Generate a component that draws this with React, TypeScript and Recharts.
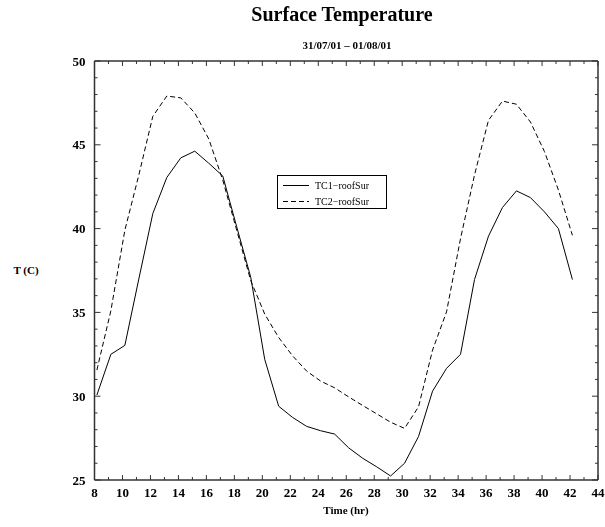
import { LineChart, Line, XAxis, YAxis } from "recharts";

const SERIF = '"Liberation Serif", "Times New Roman", serif';
const INK = "#000";
const FRAME = "#333";

// hour of sample (31/07 08:10 onwards)
const hours = [
  8.17, 9.17, 10.17, 11.17, 12.17, 13.17, 14.17, 15.17, 16.17, 17.17, 18.17, 19.17,
  20.17, 21.17, 22.17, 23.17, 24.17, 25.17, 26.17, 27.17, 28.17, 29.17, 30.17, 31.17,
  32.17, 33.17, 34.17, 35.17, 36.17, 37.17, 38.17, 39.17, 40.17, 41.17, 42.17,
];

const tc1RoofSur = [
  30.07, 32.5, 33.03, 37.0, 40.9, 43.05, 44.22, 44.62, 43.9, 43.14, 40.1, 37.1,
  32.2, 29.4, 28.73, 28.2, 27.94, 27.74, 26.92, 26.3, 25.79, 25.24, 26.0, 27.6,
  30.3, 31.66, 32.5, 36.96, 39.55, 41.26, 42.25, 41.85, 41.0, 40.0, 36.96,
];

const tc2RoofSur = [
  31.56, 35.1, 39.9, 43.2, 46.7, 47.91, 47.8, 46.9, 45.35, 42.9, 39.9, 36.9,
  34.9, 33.5, 32.4, 31.5, 30.9, 30.5, 29.96, 29.45, 28.95, 28.45, 28.08, 29.37,
  32.75, 35.03, 39.4, 43.2, 46.46, 47.61, 47.42, 46.36, 44.6, 42.3, 39.6,
];

const xTicks = [
  8, 9, 10, 11, 12, 13, 14, 15, 16, 17, 18, 19, 20, 21, 22, 23, 24, 25, 26,
  27, 28, 29, 30, 31, 32, 33, 34, 35, 36, 37, 38, 39, 40, 41, 42, 43, 44,
];
const xLabels = [8, 10, 12, 14, 16, 18, 20, 22, 24, 26, 28, 30, 32, 34, 36, 38, 40, 42, 44];

const yTicks = [
  25, 26, 27, 28, 29, 30, 31, 32, 33, 34, 35, 36, 37, 38, 39, 40, 41, 42, 43, 44,
  45, 46, 47, 48, 49, 50,
];
const yLabels = [25, 30, 35, 40, 45, 50];

const seriesNames = ["TC1−roofSur", "TC2−roofSur"];

const data = hours.map((t, i) => ({ t, tc1: tc1RoofSur[i], tc2: tc2RoofSur[i] }));

const labelStyle = { fontFamily: SERIF, fontWeight: 700, fontSize: 13, fill: INK };

function BottomTick({ x, y, payload }: any) {
  const v = payload.value;
  const major = xLabels.includes(v);
  return (
    <g>
      <line x1={x} y1={y} x2={x} y2={y - (major ? 5 : 3)} stroke={FRAME} strokeWidth={1} />
      {major && (
        <text x={x} y={y + 17} textAnchor="middle" style={labelStyle}>
          {v}
        </text>
      )}
    </g>
  );
}

function TopTick({ x, y, payload }: any) {
  const major = xLabels.includes(payload.value);
  return <line x1={x} y1={y} x2={x} y2={y + (major ? 5 : 3)} stroke={FRAME} strokeWidth={1} />;
}

function LeftTick({ x, y, payload }: any) {
  const v = payload.value;
  const major = yLabels.includes(v);
  return (
    <g>
      <line x1={x} y1={y} x2={x + (major ? 6 : 3)} y2={y} stroke={FRAME} strokeWidth={1} />
      {major && (
        <text x={x - 9} y={y + 4.5} textAnchor="end" style={labelStyle}>
          {v}
        </text>
      )}
    </g>
  );
}

function RightTick({ x, y, payload }: any) {
  const major = yLabels.includes(payload.value);
  return <line x1={x} y1={y} x2={x - (major ? 6 : 3)} y2={y} stroke={FRAME} strokeWidth={1} />;
}

function LegendBox() {
  const dashes = ["", "5 3"];
  return (
    <div
      style={{
        position: "absolute",
        left: 277,
        top: 175,
        width: 110,
        height: 34,
        border: "1px solid #000",
        boxSizing: "border-box",
        background: "#fff",
      }}
    >
      {seriesNames.map((name, i) => (
        <div
          key={name}
          style={{ position: "absolute", left: 5, top: 3 + i * 15.5, height: 13, display: "flex", alignItems: "center" }}
        >
          <svg width={26} height={13}>
            <line x1={0} y1={6.5} x2={26} y2={6.5} stroke={INK} strokeWidth={1} strokeDasharray={dashes[i]} />
          </svg>
          <span style={{ marginLeft: 6, fontFamily: SERIF, fontSize: 10, lineHeight: "13px" }}>{name}</span>
        </div>
      ))}
    </div>
  );
}

const textBlock = (top: number, left: number, width: number, size: number) => ({
  position: "absolute" as const,
  left,
  width,
  top,
  textAlign: "center" as const,
  fontFamily: SERIF,
  fontWeight: 700,
  fontSize: size,
  lineHeight: "16px",
});

export default function App() {
  return (
    <div style={{ position: "fixed", left: 0, top: 0, width: 605, height: 527, background: "#fff" }}>
      <div style={{ ...textBlock(6, 0, 684, 20) }}>Surface Temperature</div>
      <div style={textBlock(37, 0, 694, 11)}>31/07/01 – 01/08/01</div>
      <div style={textBlock(262, 8, 36, 11)}>T (C)</div>
      <div style={textBlock(502, 0, 692, 11)}>Time (hr)</div>

      <LineChart width={605} height={527} data={data} margin={{ top: 60, right: 6, bottom: 0, left: 0 }}>
        <XAxis
          xAxisId="bottom"
          dataKey="t"
          type="number"
          domain={[8, 44]}
          ticks={xTicks}
          interval={0}
          height={47}
          tickSize={0}
          tickMargin={0}
          tickLine={false}
          tick={BottomTick}
          axisLine={{ stroke: FRAME, strokeWidth: 1.5 }}
          allowDataOverflow
        />
        <XAxis
          xAxisId="top"
          orientation="top"
          dataKey="t"
          type="number"
          domain={[8, 44]}
          ticks={xTicks}
          interval={0}
          height={1}
          tickSize={0}
          tickMargin={0}
          tickLine={false}
          tick={TopTick}
          axisLine={{ stroke: FRAME, strokeWidth: 1.5 }}
          allowDataOverflow
        />
        <YAxis
          yAxisId="left"
          type="number"
          domain={[25, 50]}
          ticks={yTicks}
          interval={0}
          width={94.5}
          tickSize={0}
          tickMargin={0}
          tickLine={false}
          tick={LeftTick}
          axisLine={{ stroke: FRAME, strokeWidth: 1.5 }}
          allowDataOverflow
        />
        <YAxis
          yAxisId="right"
          orientation="right"
          type="number"
          domain={[25, 50]}
          ticks={yTicks}
          interval={0}
          width={1}
          tickSize={0}
          tickMargin={0}
          tickLine={false}
          tick={RightTick}
          axisLine={{ stroke: FRAME, strokeWidth: 1.5 }}
          allowDataOverflow
        />
        <Line
          xAxisId="bottom"
          yAxisId="left"
          type="linear"
          dataKey="tc1"
          name={seriesNames[0]}
          stroke={INK}
          strokeWidth={1}
          dot={false}
          isAnimationActive={false}
        />
        <Line
          xAxisId="bottom"
          yAxisId="left"
          type="linear"
          dataKey="tc2"
          name={seriesNames[1]}
          stroke={INK}
          strokeWidth={1}
          strokeDasharray="5 3"
          dot={false}
          isAnimationActive={false}
        />
      </LineChart>

      <LegendBox />
    </div>
  );
}
